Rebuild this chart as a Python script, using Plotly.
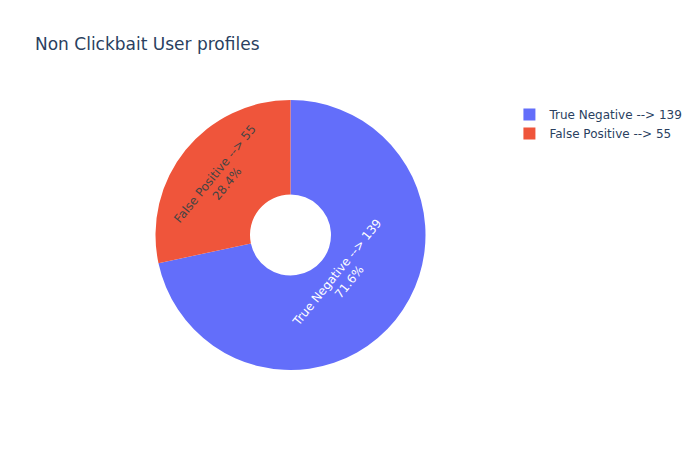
import plotly.graph_objects as go

labels = ["True Negative --> 139", "False Positive --> 55"]
values = [139, 55]

fig = go.Figure(go.Pie(labels=labels, values=values, hole=0.3, textinfo="label+percent"))
fig.update_layout(title="Non Clickbait User profiles", width=700, height=450,
                  font=dict(family="Verdana, DejaVu Sans, sans-serif"))
fig.write_html("out.html")
